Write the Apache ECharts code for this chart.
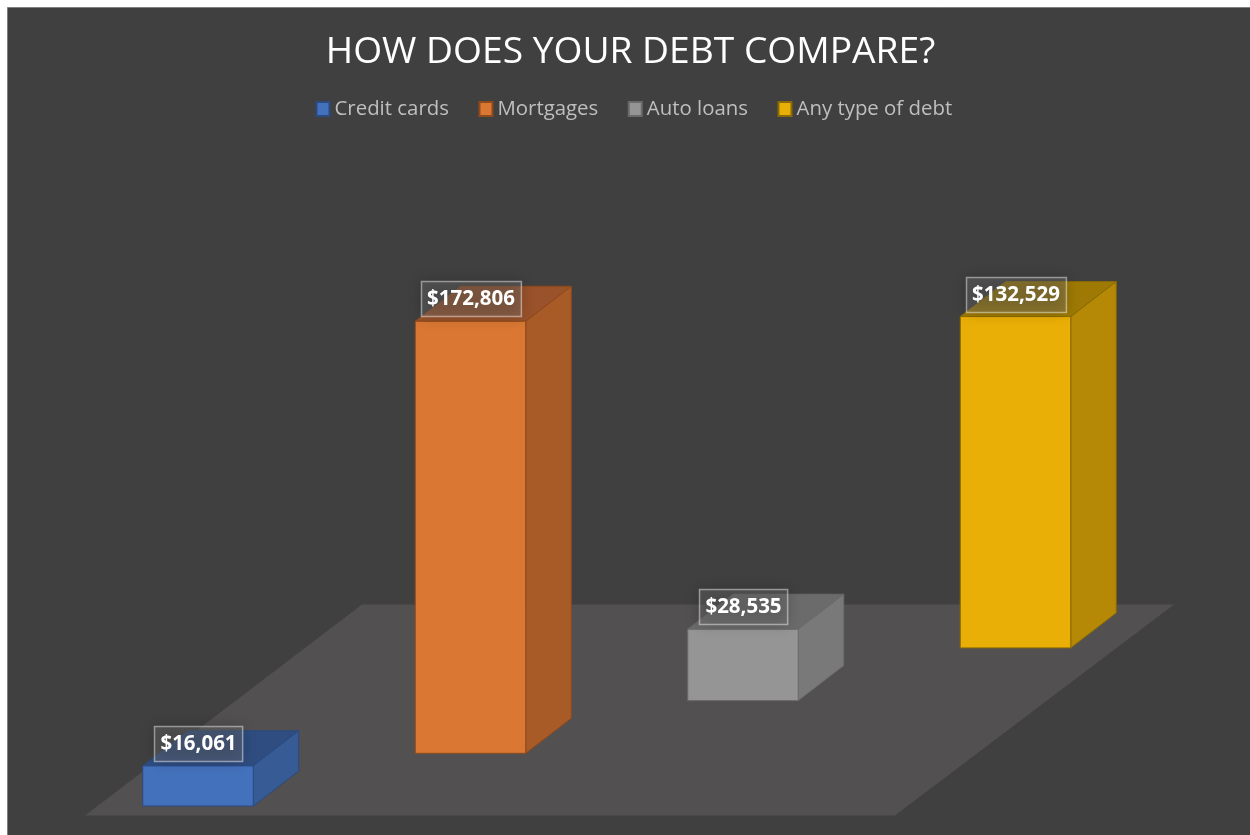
<!DOCTYPE html>
<html>
<head>
<meta charset="utf-8">
<style>html,body{margin:0;padding:0;background:#fff}#chart{width:1250px;height:835px}</style>
<script src="https://cdn.jsdelivr.net/npm/echarts@6/dist/echarts.min.js"></script>
</head>
<body>
<div id="chart"></div>
<script>
// Debt totals by type
const categories = ['Credit cards', 'Mortgages', 'Auto loans', 'Any type of debt'];
const values = [16061, 172806, 28535, 132529];

// Face colours per series: front, side, top, edge
const frontColors = ['#4471BC', '#D97733', '#959595', '#E9AF07'];
const sideColors = ['#375B95', '#A95B27', '#797979', '#B58805'];
const topColors = ['#2F4D80', '#99522A', '#6B6B6B', '#9E7A04'];
const edgeColors = ['#2A4A80', '#8F4A1C', '#6A6A6A', '#8A6A04'];

// Oblique projection of the box depth
const DEPTH_X = 45.5;
const DEPTH_Y = 35;
const ROW_STEP = 52.7;     // each category sits further back on the floor
const BAR_RATIO = 0.4055;  // front face width as a share of the category band

const money = (v) => '$' + v.toLocaleString('en-US');
const FONT = '"Open Sans", "Noto Sans", sans-serif';
const LABEL_FONT = '700 20.5px ' + FONT;
const LABEL_HEIGHT = 35;
const LABEL_PAD = 6;

// Text width for the soft shadow plate behind each value label
const measureCtx = document.createElement('canvas').getContext('2d');
function labelWidth(text) {
  measureCtx.font = LABEL_FONT;
  return measureCtx.measureText(text).width + LABEL_PAD * 2;
}

function renderBox(params, api) {
  const idx = api.value(0);
  const val = api.value(1);
  const base = api.coord([idx, 0]);
  const head = api.coord([idx, val]);
  const w = api.size([1, 0])[0] * BAR_RATIO;
  const shift = idx * ROW_STEP;
  const x0 = base[0] - w / 2;
  const x1 = base[0] + w / 2;
  const yb = base[1] - shift;
  const yt = head[1] - shift;
  const edge = { stroke: edgeColors[idx], lineWidth: 1, lineJoin: 'round' };
  const face = (points, fill) => ({
    type: 'polygon',
    shape: { points },
    style: Object.assign({ fill }, edge)
  });
  const text = money(val);
  const lw = labelWidth(text);
  const boxX = Math.round(base[0] - lw / 2) + 0.5;
  const boxY = Math.round(yt - 5 - LABEL_HEIGHT) + 0.5;
  return {
    type: 'group',
    children: [
      face([[x0, yt], [x1, yt], [x1 + DEPTH_X, yt - DEPTH_Y], [x0 + DEPTH_X, yt - DEPTH_Y]], topColors[idx]),
      face([[x1, yt], [x1 + DEPTH_X, yt - DEPTH_Y], [x1 + DEPTH_X, yb - DEPTH_Y], [x1, yb]], sideColors[idx]),
      face([[x0, yt], [x1, yt], [x1, yb], [x0, yb]], frontColors[idx]),
      {
        type: 'rect',
        z2: 9,
        shape: { x: boxX, y: boxY, width: lw, height: LABEL_HEIGHT },
        style: {
          fill: 'rgba(0,0,0,0.22)',
          shadowBlur: 14,
          shadowColor: 'rgba(0,0,0,1)'
        }
      },
      {
        type: 'rect',
        z2: 10,
        shape: { x: boxX, y: boxY, width: lw, height: LABEL_HEIGHT },
        style: {
          fill: 'rgba(255,255,255,0.16)',
          stroke: 'rgba(255,255,255,0.45)',
          lineWidth: 1.5
        }
      },
      {
        type: 'text',
        z2: 11,
        style: {
          x: base[0] + 0.5,
          y: boxY + LABEL_HEIGHT / 2 + 0.5,
          align: 'center',
          verticalAlign: 'middle',
          text,
          font: LABEL_FONT,
          fill: '#ffffff'
        }
      }
    ]
  };
}

const chart = echarts.init(document.getElementById('chart'), null, { renderer: 'canvas' });
chart.setOption({
  animation: false,
  backgroundColor: 'transparent',
  title: {
    text: 'HOW DOES YOUR DEBT COMPARE?',
    left: 625.5,
    top: 29,
    textAlign: 'center',
    textStyle: { color: '#ffffff', fontFamily: FONT, fontSize: 37.2, fontWeight: 400 }
  },
  legend: {
    top: 94,
    left: 310.5,
    itemWidth: 13,
    itemHeight: 14,
    itemGap: 29.5,
    icon: 'rect',
    textStyle: { color: '#BFBFBF', fontFamily: FONT, fontSize: 20.4 },
    data: categories
  },
  grid: { left: 61.75, width: 1090, top: 306, height: 500 },
  xAxis: { type: 'category', data: categories, show: false },
  yAxis: { type: 'value', min: 0, max: 200000, interval: 50000, show: false },
  graphic: [
    {
      type: 'rect', z: -20, silent: true,
      shape: { x: 7.5, y: 7.5, width: 1250, height: 835 },
      style: { fill: '#404040', stroke: '#7f7f7f', lineWidth: 1 }
    },
    {
      type: 'polygon', z: -10, silent: true,
      shape: { points: [[85, 815.5], [895, 815.5], [1174, 604.5], [362, 604.5]] },
      style: { fill: '#525050' }
    }
  ],
  series: categories.map((name, i) => ({
    type: 'custom',
    name,
    coordinateSystem: 'cartesian2d',
    clip: false,
    itemStyle: { color: frontColors[i], borderColor: edgeColors[i], borderWidth: 1 },
    renderItem: renderBox,
    encode: { x: 0, y: 1 },
    data: [[i, values[i]]]
  }))
});
</script>
</body>
</html>
